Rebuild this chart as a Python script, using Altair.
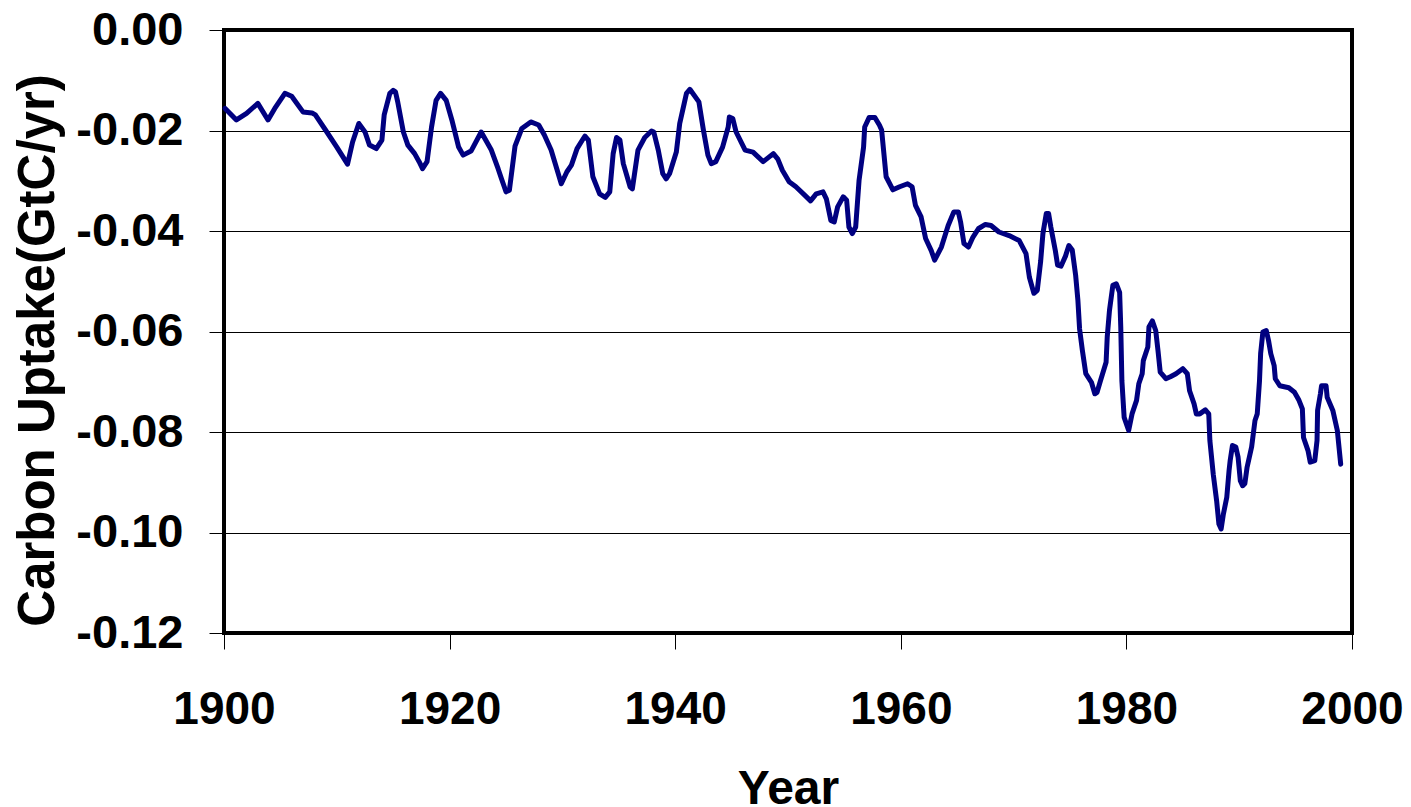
import altair as alt
import pandas as pd

years = [1900.1, 1901.1, 1902.0, 1903.0, 1903.9, 1904.5, 1905.4, 1906.0, 1907.0, 1907.8,
         1908.1, 1909.0, 1910.0, 1910.95, 1911.4, 1911.95, 1912.5, 1912.9, 1913.5, 1914.0,
         1914.2, 1914.7, 1915.0, 1915.2, 1915.4, 1915.9, 1916.3, 1916.9, 1917.3, 1917.6,
         1918.0, 1918.4, 1918.8, 1919.2, 1919.7, 1920.2, 1920.8, 1921.2, 1921.9, 1922.8,
         1923.7, 1924.3, 1924.6, 1925.0, 1925.3, 1925.8, 1926.4, 1927.2, 1927.9, 1928.4,
         1929.0, 1929.5, 1929.9, 1930.4, 1930.8, 1931.3, 1931.8, 1932.0, 1932.3, 1932.7,
         1933.3, 1933.8, 1934.2, 1934.5, 1934.8, 1935.1, 1935.4, 1936.0, 1936.2, 1936.7,
         1937.3, 1937.9, 1938.1, 1938.5, 1938.9, 1939.2, 1939.5, 1940.1, 1940.4, 1940.8,
         1941.0, 1941.3, 1942.1, 1942.5, 1942.9, 1943.2, 1943.6, 1944.2, 1944.7, 1944.8,
         1945.1, 1945.4, 1946.2, 1946.9, 1947.8, 1948.7, 1949.1, 1949.5, 1950.1, 1950.7,
         1951.5, 1952.0, 1952.5, 1953.1, 1953.4, 1953.8, 1954.1, 1954.4, 1954.9, 1955.2,
         1955.4, 1955.7, 1956.0, 1956.3, 1956.7, 1956.8, 1957.2, 1957.7, 1958.1, 1958.3,
         1958.7, 1959.3, 1959.9, 1960.6, 1961.0, 1961.3, 1961.8, 1962.2, 1962.7, 1963.0,
         1963.6, 1964.2, 1964.7, 1965.1, 1965.3, 1965.6, 1966.0, 1966.4, 1966.9, 1967.5,
         1968.0, 1968.7, 1969.6, 1970.5, 1971.1, 1971.4, 1971.8, 1972.1, 1972.4, 1972.6,
         1972.9, 1973.1, 1973.3, 1973.7, 1973.9, 1974.2, 1974.6, 1974.9, 1975.2, 1975.5,
         1975.7, 1975.85, 1976.1, 1976.4, 1976.9, 1977.2, 1977.4, 1977.7, 1978.2, 1978.3,
         1978.5, 1978.8, 1979.1, 1979.4, 1979.5, 1979.6, 1979.8, 1980.2, 1980.5, 1980.9,
         1981.1, 1981.4, 1981.5, 1981.9, 1982.0, 1982.3, 1982.6, 1982.8, 1983.0, 1983.5,
         1983.9, 1984.4, 1985.0, 1985.4, 1985.6, 1986.0, 1986.2, 1986.5, 1987.0, 1987.3,
         1987.4, 1987.7, 1988.0, 1988.2, 1988.4, 1988.6, 1988.9, 1989.1, 1989.2, 1989.4,
         1989.7, 1989.9, 1990.1, 1990.3, 1990.5, 1990.7, 1991.1, 1991.4, 1991.6, 1991.8,
         1991.9, 1992.1, 1992.4, 1992.6, 1992.8, 1993.1, 1993.2, 1993.6, 1994.4, 1994.9,
         1995.3, 1995.6, 1995.7, 1996.1, 1996.3, 1996.7, 1996.9, 1996.95, 1997.2, 1997.3,
         1997.7, 1997.8, 1998.3, 1998.7, 1999.0]

uptake = [-0.0156, -0.0179, -0.0166, -0.0146, -0.0179, -0.0156, -0.0126, -0.0132, -0.0163, -0.0165,
          -0.0169, -0.0199, -0.0233, -0.0267, -0.0223, -0.0186, -0.0203, -0.0229, -0.0236, -0.0219,
          -0.0169, -0.0126, -0.0120, -0.0123, -0.0143, -0.0203, -0.0229, -0.0246, -0.0262, -0.0276,
          -0.0262, -0.0193, -0.0140, -0.0126, -0.0140, -0.0179, -0.0233, -0.0249, -0.0241, -0.0203,
          -0.0239, -0.0276, -0.0296, -0.0322, -0.0319, -0.0231, -0.0196, -0.0183, -0.0189, -0.0209,
          -0.0239, -0.0276, -0.0306, -0.0282, -0.0269, -0.0236, -0.0218, -0.0211, -0.0219, -0.0292,
          -0.0326, -0.0333, -0.0322, -0.0246, -0.0214, -0.0219, -0.0266, -0.0312, -0.0316, -0.0239,
          -0.0214, -0.0201, -0.0203, -0.0239, -0.0286, -0.0296, -0.0286, -0.0243, -0.0186, -0.0146,
          -0.0126, -0.0118, -0.0143, -0.0199, -0.0249, -0.0266, -0.0262, -0.0233, -0.0193, -0.0173,
          -0.0176, -0.0203, -0.0239, -0.0243, -0.0262, -0.0246, -0.0257, -0.0279, -0.0302, -0.0312,
          -0.0329, -0.0340, -0.0326, -0.0322, -0.0336, -0.0379, -0.0382, -0.0352, -0.0332, -0.0339,
          -0.0392, -0.0405, -0.0392, -0.0299, -0.0233, -0.0193, -0.0174, -0.0174, -0.0189, -0.0199,
          -0.0292, -0.0318, -0.0312, -0.0306, -0.0312, -0.0349, -0.0372, -0.0415, -0.0439, -0.0458,
          -0.0432, -0.0389, -0.0362, -0.0362, -0.0382, -0.0425, -0.0432, -0.0412, -0.0395, -0.0387,
          -0.0389, -0.0402, -0.0409, -0.0419, -0.0445, -0.0492, -0.0524, -0.0518, -0.0460, -0.0405,
          -0.0365, -0.0365, -0.0392, -0.0439, -0.0468, -0.0470, -0.0450, -0.0429, -0.0438, -0.0488,
          -0.0538, -0.0595, -0.0638, -0.0684, -0.0701, -0.0724, -0.0721, -0.0698, -0.0661, -0.0611,
          -0.0558, -0.0508, -0.0505, -0.0522, -0.0591, -0.0698, -0.0771, -0.0797, -0.0764, -0.0737,
          -0.0704, -0.0684, -0.0658, -0.0631, -0.0591, -0.0579, -0.0598, -0.0638, -0.0681, -0.0694,
          -0.0690, -0.0684, -0.0674, -0.0684, -0.0718, -0.0744, -0.0764, -0.0764, -0.0756, -0.0764,
          -0.0817, -0.0884, -0.0937, -0.0983, -0.0993, -0.0963, -0.0930, -0.0877, -0.0857, -0.0827,
          -0.0830, -0.0850, -0.0897, -0.0907, -0.0903, -0.0870, -0.0830, -0.0777, -0.0764, -0.0698,
          -0.0644, -0.0601, -0.0598, -0.0618, -0.0644, -0.0668, -0.0694, -0.0708, -0.0712, -0.0721,
          -0.0737, -0.0754, -0.0811, -0.0837, -0.0860, -0.0857, -0.0817, -0.0757, -0.0724, -0.0708,
          -0.0708, -0.0731, -0.0757, -0.0797, -0.0864]

x_ticks = [1900, 1920, 1940, 1960, 1980, 2000]
y_ticks = [0.0, -0.02, -0.04, -0.06, -0.08, -0.10, -0.12]

df = pd.DataFrame({"Year": years, "Uptake": uptake})

FONT = "Liberation Sans"

chart = alt.Chart(df).mark_line(
    color="#000080", strokeWidth=5, strokeJoin="round", strokeCap="round"
).encode(
    x=alt.X("Year:Q",
            scale=alt.Scale(domain=[1900, 2000], nice=False, zero=False),
            axis=alt.Axis(values=x_ticks, format="d", grid=False, domain=False,
                          tickSize=16, tickColor="black", tickWidth=1,
                          labelFont=FONT, labelFontSize=46, labelFontWeight="bold",
                          labelColor="black", labelPadding=38, labelFlush=False,
                          title="Year", titleFont=FONT, titleFontSize=48,
                          titleFontWeight="bold", titleColor="black",
                          titleBaseline="alphabetic", titleY=170)),
    y=alt.Y("Uptake:Q",
            scale=alt.Scale(domain=[-0.12, 0.0], nice=False, zero=False),
            axis=alt.Axis(values=y_ticks, format=".2f",
                          labelExpr="replace(format(datum.value, '.2f'), '−', '-')",
                          grid=True, gridColor="black", gridWidth=1, gridOpacity=1,
                          domain=False, tickSize=15, tickColor="black", tickWidth=1,
                          labelFont=FONT, labelFontSize=47, labelFontWeight="bold",
                          labelColor="black", labelPadding=26, labelFlush=False,
                          title="Carbon Uptake(GtC/yr)", titleFont=FONT,
                          titleFontSize=51, titleFontWeight="bold", titleColor="black",
                          titleAngle=270, titleBaseline="alphabetic", titleAlign="center",
                          titleX=-171, titleY=320)),
).properties(
    width=1128,
    height=603,
    autosize=alt.AutoSizeParams(type="none"),
    padding={"left": 216, "top": 22, "right": 51, "bottom": 172},
).configure(
    background="white"
).configure_view(
    stroke="black", strokeWidth=4
)

chart.save("out.html", embed_options={"renderer": "svg", "actions": False})
